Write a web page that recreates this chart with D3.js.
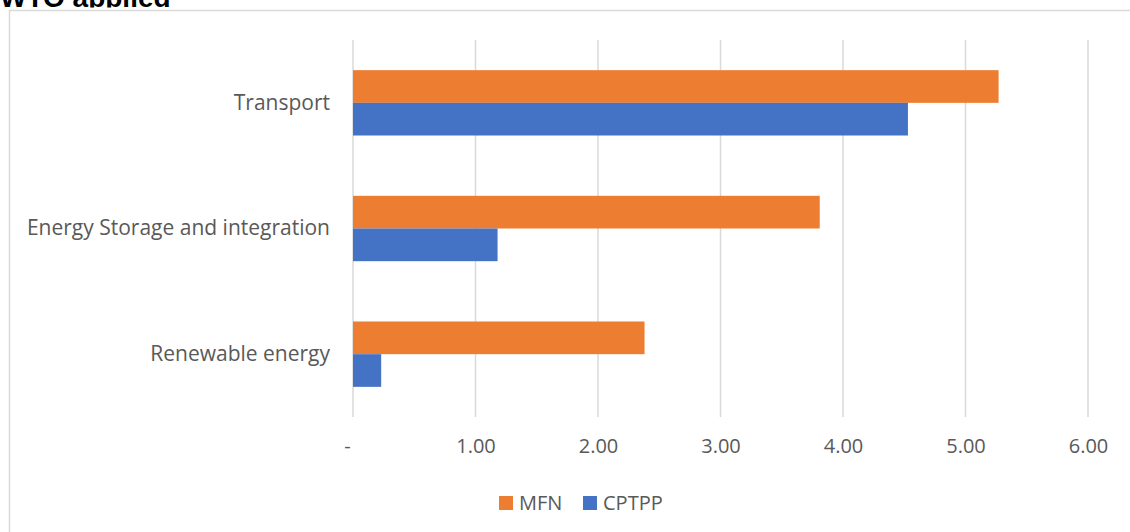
<!DOCTYPE html>
<html>
<head>
<meta charset="utf-8">
<script src="https://cdn.jsdelivr.net/npm/d3@7"></script>
<style>
  body { margin: 0; background: #fff; }
  svg text { font-family: "Open Sans", "Noto Sans", sans-serif; fill: #595959; }
</style>
</head>
<body>
<div id="chart"></div>
<script>
// WTO applied tariffs - MFN vs CPTPP
var width = 1130, height = 532;

var categories = ["Transport", "Energy Storage and integration", "Renewable energy"];
var seriesNames = ["MFN", "CPTPP"];
var mfnValues = [5.27, 3.81, 2.38];
var cptppValues = [4.53, 1.18, 0.23];
var tickValues = [0, 1, 2, 3, 4, 5, 6];
var tickLabels = ["-", "1.00", "2.00", "3.00", "4.00", "5.00", "6.00"];
var colors = {"MFN": "#ED7D31", "CPTPP": "#4472C4"};

var margin = {top: 40, left: 353, right: 42, bottom: 115};

var svg = d3.select("#chart").append("svg")
    .attr("width", width)
    .attr("height", height);

// clip for the title, which is cut off in the original
svg.append("clipPath").attr("id", "titleClip")
    .append("rect").attr("x", 0).attr("y", 0).attr("width", 400).attr("height", 7.5);

// chart frame
svg.append("rect")
    .attr("x", 9.5).attr("y", 10.5)
    .attr("width", 1140).attr("height", 540)
    .attr("fill", "none")
    .attr("stroke", "#D9D9D9")
    .attr("stroke-width", 1.5);

// title
svg.append("text")
    .attr("x", 0).attr("y", 7)
    .attr("clip-path", "url(#titleClip)")
    .style("font-family", "Arial, 'Liberation Sans', sans-serif")
    .style("font-weight", "bold")
    .style("font-size", "28px")
    .style("fill", "#000")
    .text("WTO applied");

var xScale = d3.scaleLinear()
    .domain([0, 6])
    .range([margin.left, 1088]);

var yScale = d3.scaleBand()
    .domain(categories)
    .range([margin.top, height - margin.bottom - 0])
    .paddingInner(0.48)
    .paddingOuter(0.24);

var inner = d3.scaleBand()
    .domain(seriesNames)
    .range([0, yScale.bandwidth()]);

// grid lines
svg.append("g").selectAll("line")
    .data(tickValues)
    .enter()
    .append("line")
    .attr("x1", function(d) { return xScale(d); })
    .attr("x2", function(d) { return xScale(d); })
    .attr("y1", margin.top)
    .attr("y2", 417)
    .attr("stroke", "#D9D9D9")
    .attr("stroke-width", 1.5);

// x axis labels
var xAxis = d3.axisBottom(xScale)
    .tickValues(tickValues)
    .tickFormat(function(d, i) { return tickLabels[i]; })
    .tickSize(0)
    .tickPadding(0);

var gx = svg.append("g")
    .attr("transform", "translate(0," + 439 + ")")
    .call(xAxis);
gx.select(".domain").remove();
gx.selectAll("text")
    .style("font-size", "20px")
    .style("font-family", "'Open Sans', 'Noto Sans', sans-serif")
    .attr("fill", "#595959")
    .attr("dx", function(d) { return d === 0 ? "-6" : "0"; });

// bars
var data = [];
categories.forEach(function(c, i) {
    data.push({cat: c, series: "MFN", value: mfnValues[i]});
    data.push({cat: c, series: "CPTPP", value: cptppValues[i]});
});

svg.append("g").selectAll("rect")
    .data(data)
    .enter()
    .append("rect")
    .attr("x", xScale(0))
    .attr("y", function(d) { return yScale(d.cat) + inner(d.series); })
    .attr("width", function(d) { return xScale(d.value) - xScale(0); })
    .attr("height", inner.bandwidth())
    .attr("fill", function(d) { return colors[d.series]; });

// category labels
var yAxis = d3.axisLeft(yScale).tickSize(0).tickPadding(23);
var gy = svg.append("g")
    .attr("transform", "translate(" + margin.left + ",0)")
    .call(yAxis);
gy.select(".domain").remove();
gy.selectAll("text")
    .style("font-size", "21px")
    .style("font-family", "'Open Sans', 'Noto Sans', sans-serif")
    .attr("fill", "#595959");

// legend
var legendX = [499, 583];
var legend = svg.append("g").selectAll("g")
    .data(seriesNames)
    .enter()
    .append("g")
    .attr("transform", function(d, i) { return "translate(" + legendX[i] + ",496)"; });
legend.append("rect")
    .attr("width", 14).attr("height", 14)
    .attr("fill", function(d) { return colors[d]; });
legend.append("text")
    .attr("x", 20).attr("y", 14)
    .style("font-size", "20px")
    .text(function(d) { return d; });
</script>
</body>
</html>
